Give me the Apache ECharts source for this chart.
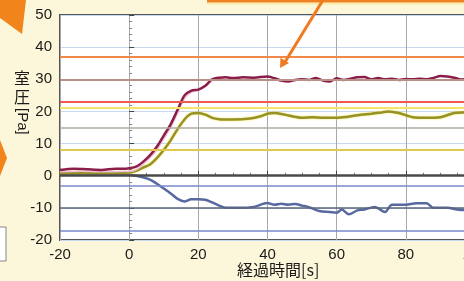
<!DOCTYPE html>
<html>
<head>
<meta charset="utf-8">
<script src="https://cdn.jsdelivr.net/npm/echarts@6/dist/echarts.min.js"></script>
<style>
  html, body { margin: 0; padding: 0; background: #fcf7da; }
  #chart { width: 464px; height: 281px; }
</style>
</head>
<body>
<div id="chart"></div>
<script>
// time [s] and room pressure [Pa] per trace
var redTime = [-20, -16, -12, -8, -4, -1, 0, 2, 4, 6, 8, 10, 12, 14, 16, 18, 20, 22, 24, 26, 28, 30, 33, 36, 40, 42, 44, 46, 48, 50, 52, 54, 56, 58, 60, 62, 64, 66, 68, 70, 72, 74, 76, 78, 80, 82, 84, 86, 88, 90, 92, 94, 96, 98, 100];
var redVal  = [1.8, 2.2, 2.0, 1.8, 2.2, 2.2, 2.3, 2.8, 4.3, 6.3, 9, 12.5, 16, 20.5, 25, 26.5, 26.8, 28, 30, 30.5, 30.6, 30.4, 30.6, 30.5, 30.9, 30.3, 29.6, 29.3, 29.8, 30.0, 29.8, 30.4, 29.6, 29.3, 30.3, 29.8, 30.2, 30.6, 30.7, 30.0, 30.4, 30.0, 30.2, 29.8, 30.1, 30.0, 30.2, 30.0, 30.4, 31.0, 30.9, 30.5, 29.9, 30.2, 30.0];

var pinkTime = [-20, -14, -8, -2, 0, 2, 4, 6, 8, 10, 12, 14, 16, 18, 20, 22, 24, 26];
var pinkVal  = [1.2, 1.4, 1.2, 1.3, 1.3, 1.8, 3.5, 5.5, 8, 11.5, 15, 19.5, 24, 26, 26.6, 27.7, 29.7, 30.3];

var oliveTime = [-20, -10, 0, 2, 4, 6, 8, 10, 12, 14, 16, 18, 20, 22, 24, 26, 30, 35, 38, 40, 42, 45, 48, 50, 53, 56, 60, 63, 66, 70, 73, 75, 78, 82, 86, 90, 94, 97, 100];
var oliveVal  = [0.8, 0.8, 1.0, 1.5, 2.5, 3.5, 5.5, 8, 11, 14.5, 17.5, 19.3, 19.5, 19, 18, 17.6, 17.5, 17.8, 18.5, 19.3, 19.5, 19, 18.3, 18, 18.2, 18, 18, 18.3, 18.8, 19.3, 19.7, 20, 19.5, 18.2, 18, 18.2, 19.5, 19.7, 19.8];

var blueTime = [-20, -10, -2, 0, 2, 4, 6, 8, 10, 12, 14, 16, 18, 20, 22, 24, 26, 28, 32, 36, 40, 42, 44, 46, 48, 50, 52, 55, 58, 60, 61.5, 63.5, 66, 68, 71, 74, 76, 80, 83, 86, 88, 92, 96, 100];
var blueVal  = [0.3, 0.4, 0.4, 0.3, 0, -0.5, -1.2, -2.5, -4, -5.5, -7.2, -8, -7.3, -7.3, -7.5, -8.3, -9.3, -10, -10, -9.7, -8.5, -9, -8.7, -9, -8.8, -9.3, -9.8, -11, -11.3, -11.5, -10.5, -12, -10.8, -10.5, -9.7, -11.3, -9, -9, -8.6, -8.6, -10, -10, -10.7, -10];

// horizontal reference levels [Pa]
var refLevels = [37, 30, 23, 21, 15, 8, 0, -3, -10, -17];

var xTicks = [-20, 0, 20, 40, 60, 80, 100];
var yTicks = [-20, -10, 0, 10, 20, 30, 40, 50];

var refColors = ['#f0884a', '#b89088', '#ee5a50', '#f4e46a', '#b0a8a0', '#e0c850', '#4a4a4a', '#7a88c8', '#5a6478', '#7888cc'];
var refWidths = [2, 2, 2, 2, 1.5, 2, 2.5, 1.5, 1.5, 1.5];

function pairs(t, v) {
  return t.map(function (x, i) { return [x, v[i]]; });
}

var myChart = echarts.init(document.getElementById('chart'));

var option = {
  animation: false,
  backgroundColor: '#fcf7da',
  textStyle: { fontFamily: 'Liberation Sans' },
  grid: {
    left: 60,
    top: 15,
    width: 415,
    height: 225,
    outerBoundsMode: 'none',
    containLabel: false,
    show: true,
    backgroundColor: '#ffffff',
    borderColor: '#555',
    borderWidth: 2
  },
  xAxis: {
    type: 'value',
    min: xTicks[0],
    max: xTicks[xTicks.length - 1],
    interval: 20,
    axisLine: { show: false },
    axisTick: { inside: true, length: 5, lineStyle: { color: '#444' } },
    minorTick: { show: true, splitNumber: 4, length: 3, lineStyle: { color: '#777' } },
    axisLabel: { color: '#1a1a1a', fontSize: 15, margin: 7 },
    splitLine: { show: true, lineStyle: { color: '#a8a8a8', width: 1 } }
  },
  yAxis: {
    type: 'value',
    min: yTicks[0],
    max: yTicks[yTicks.length - 1],
    interval: 10,
    axisLine: { show: false },
    axisTick: { inside: true, length: 5, lineStyle: { color: '#444' } },
    minorTick: { show: true, splitNumber: 5, length: 3, lineStyle: { color: '#888' } },
    axisLabel: { color: '#1a1a1a', fontSize: 15, margin: 8 },
    splitLine: { show: true, lineStyle: { color: '#c6d8ee', width: 1 } }
  },
  series: [{
    name: 'ref',
    type: 'line',
    data: [],
    silent: true,
    z: 1,
    markLine: {
      symbol: 'none',
      silent: true,
      label: { show: false },
      data: refLevels.map(function (v, i) {
        return { yAxis: v, lineStyle: { color: refColors[i], width: refWidths[i], type: 'solid' } };
      })
    }
  }, {
    name: 'blue',
    type: 'line',
    smooth: 0.3,
    showSymbol: false,
    z: 3,
    lineStyle: { color: '#5868a0', width: 2.5 },
    data: pairs(blueTime, blueVal)
  }, {
    name: 'olive',
    type: 'line',
    smooth: 0.3,
    showSymbol: false,
    z: 3,
    lineStyle: { color: '#979226', width: 2.5, shadowColor: '#f2e44a', shadowBlur: 2 },
    data: pairs(oliveTime, oliveVal)
  }, {
    name: 'pink',
    type: 'line',
    smooth: 0.3,
    showSymbol: false,
    z: 3,
    lineStyle: { color: '#f0bcd4', width: 1.5 },
    data: pairs(pinkTime, pinkVal)
  }, {
    name: 'red',
    type: 'line',
    smooth: 0.3,
    showSymbol: false,
    z: 4,
    lineStyle: { color: '#8c1c48', width: 2.5 },
    data: pairs(redTime, redVal)
  }],
  graphic: [
    // axis titles
    { type: 'text', left: 14, top: 70, style: { text: '室', font: '16px "Noto Sans CJK JP"', fill: '#1a1a1a' } },
    { type: 'text', left: 14, top: 89, style: { text: '圧', font: '16px "Noto Sans CJK JP"', fill: '#1a1a1a' } },
    { type: 'text', x: 30, y: 108, rotation: -Math.PI / 2,
      style: { text: '[Pa]', font: '15px "Liberation Sans"', fill: '#1a1a1a' } },
    { type: 'text', left: 237, top: 262, style: { text: '経過時間[s]', font: '16px "Noto Sans CJK JP"', fill: '#1a1a1a' } },
    // orange decorations from the page
    { type: 'polygon', shape: { points: [[0, 0], [26, 0], [22, 34], [0, 18]] }, style: { fill: '#f2841c' } },
    { type: 'polygon', shape: { points: [[0, 140], [7, 158], [0, 176]] }, style: { fill: '#f2841c' } },
    { type: 'rect', shape: { x: -5, y: 227, width: 11, height: 34 }, style: { fill: '#ffffff', stroke: '#888', lineWidth: 1 } },
    { type: 'line', shape: { x1: 207, y1: 1, x2: 470, y2: 1 }, style: { stroke: '#f08020', lineWidth: 3 } },
    { type: 'line', shape: { x1: 207, y1: 4, x2: 470, y2: 4 }, style: { stroke: '#fbeeb0', lineWidth: 2 } },
    { type: 'line', shape: { x1: 323, y1: 0, x2: 285, y2: 62 }, style: { stroke: '#f07a20', lineWidth: 3 }, z: 10 },
    { type: 'polygon', shape: { points: [[280, 68], [289, 63], [280.5, 57.7]] }, style: { fill: '#f07a20' }, z: 10 }
  ]
};

myChart.setOption(option);
</script>
</body>
</html>
